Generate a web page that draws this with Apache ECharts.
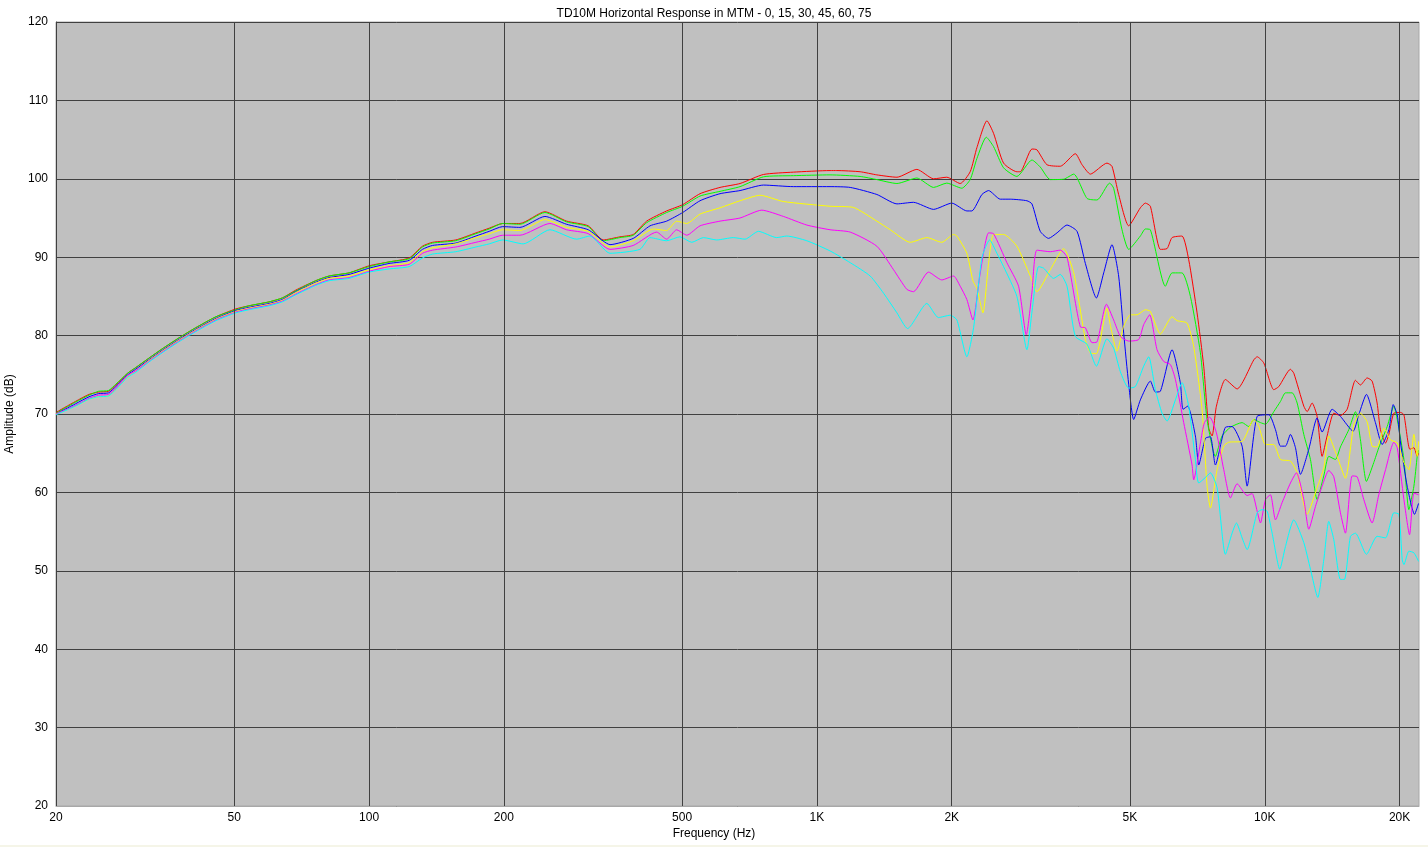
<!DOCTYPE html>
<html>
<head>
<meta charset="utf-8">
<script src="https://cdn.jsdelivr.net/npm/echarts@6/dist/echarts.min.js"></script>
<style>
html,body{margin:0;padding:0;background:#fff;}
#chart{width:1428px;height:847px;}
#strip{position:absolute;left:0;top:845px;width:1428px;height:2px;background:#f5f5e8;}
</style>
</head>
<body>
<div id="chart"></div>
<div id="strip"></div>
<script>
const titleText = 'TD10M Horizontal Response in MTM - 0, 15, 30, 45, 60, 75';
const xAxisTitle = 'Frequency (Hz)';
const yAxisTitle = 'Amplitude (dB)';
const freqTicks = [20, 50, 100, 200, 500, 1000, 2000, 5000, 10000, 20000];
const freqTickLabels = ['20', '50', '100', '200', '500', '1K', '2K', '5K', '10K', '20K'];
const seriesNames = ['0', '15', '30', '45', '60', '75'];
const seriesColors = ['#ff0000', '#00ff00', '#0000ff', '#ffff00', '#ff00ff', '#00ffff'];

const lowFreq = [20, 22.1, 23.7, 24.9, 26.2, 27.2, 28.9, 30.1, 32.2, 34.5, 37.6, 41, 45.5, 50.4, 53.9, 59.8, 64, 68.6, 76, 81.4, 90.2, 100, 110.8, 122.9, 131.6, 138.6, 156.2, 173.2, 185.5, 198.7];

const redLow = [70.2, 71.6, 72.5, 72.8, 72.9, 73.7, 75.2, 75.9, 77.1, 78.3, 79.7, 81.0, 82.4, 83.4, 83.8, 84.3, 84.8, 85.8, 87.0, 87.6, 88.0, 88.9, 89.4, 89.9, 91.4, 91.9, 92.2, 93.1, 93.7, 94.3];
const greenLow = [70.1, 71.5, 72.4, 72.9, 73.0, 73.8, 75.2, 75.9, 77.1, 78.3, 79.7, 81.0, 82.4, 83.3, 83.8, 84.3, 84.8, 85.7, 87.0, 87.6, 88.0, 88.8, 89.4, 89.8, 91.3, 91.8, 92.1, 93.0, 93.6, 94.3];
const blueLow = [70.0, 71.3, 72.2, 72.6, 72.7, 73.5, 75.0, 75.7, 76.9, 78.1, 79.5, 80.8, 82.2, 83.2, 83.6, 84.1, 84.6, 85.6, 86.8, 87.4, 87.8, 88.6, 89.2, 89.6, 91.0, 91.5, 91.8, 92.7, 93.3, 93.9];
const yellowLow = [70.0, 71.0, 71.9, 72.2, 72.3, 73.2, 74.8, 75.5, 76.8, 78.0, 79.4, 80.7, 82.1, 83.1, 83.5, 84.0, 84.5, 85.5, 86.7, 87.3, 87.6, 88.4, 88.9, 89.3, 90.7, 91.2, 91.7, 92.5, 93.0, 93.5];
const magentaLow = [70.0, 71.1, 72.0, 72.4, 72.5, 73.3, 74.9, 75.5, 76.7, 77.9, 79.3, 80.6, 82.0, 83.0, 83.4, 83.9, 84.4, 85.3, 86.5, 87.1, 87.4, 88.2, 88.8, 89.1, 90.5, 90.9, 91.3, 91.9, 92.3, 92.8];
const cyanLow = [69.9, 71.0, 71.9, 72.2, 72.3, 73.1, 74.7, 75.3, 76.6, 77.8, 79.2, 80.5, 81.9, 82.9, 83.3, 83.8, 84.3, 85.2, 86.4, 87.0, 87.3, 88.1, 88.5, 88.8, 89.9, 90.4, 90.7, 91.3, 91.7, 92.2];

const redHigh = [[217.2,94.3],[247,95.8],[276.1,94.6],[308.6,94.0],[333.4,92.2],[363.3,92.6],[389,92.9],[416.7,94.6],[461.8,95.9],[501.6,96.7],[548.3,98.1],[607.7,98.9],[673.6,99.4],[759.5,100.55],[886.4,100.85],[1070,101.05],[1108,101.05],[1249,100.9],[1361,100.5],[1509,100.2],[1672,101.2],[1822,100.0],[1950,100.2],[2089,99.4],[2199,100.9],[2277,104.0],[2397,107.4],[2480,105.8],[2611,102.0],[2796,100.9],[2845,100.9],[3021,103.8],[3099,103.7],[3263,101.8],[3495,101.6],[3776,103.2],[3908,101.8],[4080,100.6],[4443,102.0],[4559,101.6],[4718,98.0],[4968,94.0],[5275,96.3],[5412,96.9],[5553,96.5],[5847,91.0],[6052,91.1],[6209,92.5],[6536,92.7],[6763,89.7],[7061,82.9],[7306,76.1],[7497,68.2],[7627,67.2],[7799,71.0],[8168,74.4],[8675,73.2],[9451,76.9],[9616,77.3],[9951,76.5],[10476,73.1],[10749,73.5],[11412,75.7],[11611,75.2],[12222,71.0],[12434,70.3],[12757,71.4],[13088,69.7],[13430,64.6],[13779,67.2],[14258,70.1],[14755,69.8],[15272,70.6],[15939,74.3],[16355,73.7],[16926,74.6],[17365,74.2],[17819,71.4],[18126,68.0],[18608,66.3],[18929,67.4],[19423,70.1],[20101,70.2],[20451,69.9],[21086,65.5],[21528,65.7],[21900,64.6],[22050,65.0]];
const greenHigh = [[217.2,94.2],[247,95.7],[276.1,94.5],[308.6,93.9],[333.4,92.1],[363.3,92.5],[389,92.8],[416.7,94.4],[461.8,95.7],[501.6,96.5],[548.3,97.8],[607.7,98.4],[673.6,99.0],[759.5,100.25],[886.4,100.4],[1070,100.5],[1249,100.3],[1361,99.9],[1509,99.4],[1672,100.1],[1822,98.9],[1950,99.45],[2107,98.8],[2199,99.9],[2277,102.6],[2389,105.3],[2480,104.1],[2611,101.4],[2796,100.3],[3021,102.4],[3153,101.5],[3320,99.9],[3556,99.95],[3745,100.6],[4010,97.5],[4222,97.3],[4505,99.45],[4598,98.8],[4800,93.5],[4968,91.0],[5275,92.7],[5412,93.6],[5553,93.5],[5999,86.3],[6209,88.0],[6536,88.0],[6823,85.0],[7183,77.8],[7433,69.3],[7758,64.6],[8029,67.2],[8381,68.3],[8900,68.9],[9211,68.4],[9451,69.3],[9781,68.9],[10037,68.7],[10476,70.3],[10840,71.6],[11123,72.7],[11512,72.7],[11811,71.4],[12222,67.4],[12648,64.2],[13088,59.1],[13545,62.1],[13897,64.6],[14381,64.2],[14755,65.8],[15403,68.0],[15939,70.3],[16355,66.7],[16868,61.4],[17514,63.8],[17972,65.7],[18768,68.4],[19423,71.0],[19761,69.3],[20451,64.2],[20980,57.8],[21528,60.8],[21900,64.6],[22050,65.4]];
const blueHigh = [[217.2,93.8],[247,95.2],[276.1,94.2],[308.6,93.5],[333.4,92.05],[345.1,91.6],[389,92.4],[424,94.0],[461.8,94.6],[501.6,95.7],[548.3,97.2],[607.7,98.1],[673.6,98.5],[759.5,99.2],[886.4,99.0],[1070,99.0],[1187,98.9],[1361,98.0],[1509,96.8],[1643,97.0],[1822,96.1],[2001,96.9],[2162,95.9],[2218,95.9],[2336,98.0],[2417,98.5],[2567,97.4],[2702,97.4],[2944,97.2],[3021,96.8],[3153,93.3],[3291,92.4],[3436,93.1],[3618,94.1],[3809,93.3],[3976,89.2],[4208,84.8],[4369,88.0],[4559,91.6],[4718,87.6],[4842,80.3],[4968,73.8],[5097,69.3],[5275,71.8],[5553,74.2],[5698,72.8],[5847,72.9],[6209,78.2],[6478,74.0],[6569,70.6],[6729,71.0],[7000,67.2],[7122,63.5],[7370,66.9],[7562,67.1],[7758,63.5],[8168,68.3],[8454,68.4],[8900,65.9],[9132,60.8],[9616,69.7],[10210,69.9],[10566,68.0],[10840,65.9],[11123,65.9],[11412,67.4],[11710,65.7],[12016,62.3],[12540,65.5],[13088,69.5],[13430,67.7],[14136,70.6],[14755,69.7],[15749,67.8],[16214,69.9],[16868,72.5],[17664,68.9],[18281,66.1],[18929,68.0],[19355,71.2],[19761,69.9],[20101,66.3],[20797,60.8],[21600,57.2],[22050,58.6]];
const yellowHigh = [[217.2,93.4],[247,94.8],[276.1,93.8],[308.6,93.3],[345.1,91.3],[389,92.1],[431.2,93.6],[461.8,93.4],[486.3,94.6],[512,94.3],[548.3,95.5],[607.7,96.3],[673.6,97.2],[746.6,97.9],[841.9,97.1],[1070,96.5],[1206,96.35],[1361,94.6],[1458,93.5],[1616,91.9],[1760,92.5],[1901,91.9],[2019,92.9],[2054,92.7],[2162,90.5],[2230,87.0],[2277,86.0],[2348,82.9],[2417,89.2],[2480,92.9],[2611,92.9],[2796,91.4],[2995,87.6],[3099,85.6],[3320,88.4],[3556,91.1],[3745,88.0],[3976,79.5],[4080,77.8],[4208,77.7],[4443,83.5],[4521,81.3],[4678,78.0],[4842,81.2],[5010,82.65],[5185,82.65],[5412,83.3],[5553,83.1],[5847,80.2],[6209,82.4],[6371,81.9],[6705,81.6],[6940,78.6],[7244,70.6],[7433,60.8],[7562,58.0],[7826,62.9],[8099,65.9],[8310,66.4],[8900,66.5],[9451,69.3],[9699,68.4],[10037,66.1],[10476,66.1],[10840,64.2],[11412,64.0],[11811,62.5],[12434,57.2],[13088,60.6],[13545,63.1],[13897,67.2],[14504,64.6],[15139,61.8],[15803,68.6],[16355,70.1],[16926,69.0],[17365,65.9],[17819,65.8],[18450,68.2],[19094,66.7],[19761,66.3],[20451,63.8],[20980,62.9],[21528,67.4],[21900,64.6],[22050,66.5]];
const magentaHigh = [[217.2,92.8],[253.4,94.3],[276.1,93.5],[308.6,93.0],[345.1,91.0],[389,91.5],[438.7,93.2],[461.8,92.3],[486.3,93.5],[512,92.8],[548.3,94.0],[607.7,94.6],[673.6,95.0],[753.1,96.0],[841.9,95.2],[949.4,94.1],[1070,93.5],[1187,93.2],[1361,91.4],[1483,88.4],[1588,85.9],[1643,85.6],[1775,88.1],[1901,87.1],[2019,87.6],[2089,86.3],[2162,84.6],[2230,82.0],[2316,88.0],[2417,93.1],[2480,93.0],[2656,89.3],[2820,86.3],[2934,80.1],[3021,85.5],[3099,90.9],[3320,90.7],[3495,90.9],[3618,90.0],[3875,81.1],[3976,81.0],[4115,79.1],[4222,79.2],[4430,84.0],[4598,82.0],[4759,79.9],[4968,79.3],[5230,79.5],[5366,81.4],[5534,82.65],[5747,78.2],[5948,76.7],[6156,76.3],[6317,74.4],[6592,68.9],[6881,63.5],[6940,61.6],[7183,66.3],[7332,68.9],[7536,69.6],[7799,67.6],[8099,62.9],[8381,59.3],[8675,61.1],[9132,59.6],[9371,59.85],[9616,57.6],[9781,56.1],[10037,59.1],[10297,59.7],[10566,56.5],[10933,58.7],[11412,61.2],[11770,62.5],[12222,59.1],[12540,55.3],[12976,58.2],[13430,60.8],[13897,62.8],[14258,62.0],[14755,57.4],[15139,54.8],[15669,62.1],[16076,62.0],[16637,59.1],[17365,56.1],[17972,59.7],[18608,62.9],[19423,66.4],[19761,65.7],[20451,59.1],[21052,54.6],[21528,59.9],[22050,59.7]];
const cyanHigh = [[220.9,91.7],[253.4,93.5],[290.7,92.3],[311.3,92.7],[345.1,90.5],[402.6,91.0],[424,92.5],[461.8,92.1],[494.7,92.6],[525.4,91.9],[557.9,92.5],[597.4,92.2],[650.9,92.5],[691.2,92.3],[740.2,93.3],[813.4,92.5],[856.4,92.7],[949.4,92.1],[1070,90.8],[1187,89.3],[1315,87.6],[1409,85.4],[1509,82.9],[1594,80.9],[1760,84.1],[1868,82.3],[1984,82.6],[2054,82.0],[2162,77.3],[2238,81.0],[2336,89.9],[2430,92.2],[2523,90.5],[2611,88.8],[2796,85.0],[2944,78.2],[3021,83.0],[3126,88.8],[3208,88.6],[3377,87.3],[3495,87.8],[3618,86.3],[3776,79.9],[4010,78.9],[4208,76.1],[4443,79.6],[4598,78.4],[4759,75.4],[4968,73.3],[5141,73.5],[5366,76.1],[5506,77.3],[5698,73.1],[5897,70.1],[6052,69.1],[6317,71.8],[6536,74.0],[6763,71.0],[7000,64.2],[7122,61.2],[7433,62.1],[7562,62.5],[7826,60.6],[8168,52.1],[8454,54.8],[8645,56.1],[8900,54.2],[9132,52.7],[9616,57.4],[9865,57.8],[10123,57.6],[10387,54.8],[10803,50.2],[11123,53.1],[11611,56.5],[12222,53.6],[12648,50.2],[13133,46.6],[13545,51.4],[13897,56.3],[14258,54.0],[14755,48.9],[15062,48.9],[15535,54.4],[15939,54.8],[16868,52.1],[17819,54.4],[18608,54.2],[19423,57.4],[19931,57.2],[20274,51.4],[20451,50.8],[20980,52.5],[21528,52.3],[22050,51.2]];

function join(low, high) {
  return lowFreq.map((f, i) => [f, low[i]]).concat(high);
}
const allData = [
  join(redLow, redHigh),
  join(greenLow, greenHigh),
  join(blueLow, blueHigh),
  join(yellowLow, yellowHigh),
  join(magentaLow, magentaHigh),
  join(cyanLow, cyanHigh)
];

const FONT = "'Liberation Sans', Arial, sans-serif";
const chart = echarts.init(document.getElementById('chart'), null, {renderer: 'canvas'});

const series = [{
  type: 'line',
  data: [],
  silent: true,
  markLine: {
    silent: true,
    symbol: ['none', 'none'],
    label: {show: false},
    lineStyle: {color: '#404040', width: 1, type: 'solid'},
    emphasis: {disabled: true},
    data: freqTicks.slice(1).map(f => ({xAxis: f}))
  }
}];
seriesNames.forEach((n, i) => {
  series.push({
    name: n,
    type: 'line',
    data: allData[i],
    showSymbol: false,
    smooth: 0.2,
    silent: true,
    lineStyle: {color: seriesColors[i], width: 1},
    itemStyle: {color: seriesColors[i]},
    z: 3
  });
});

chart.setOption({
  animation: false,
  backgroundColor: '#ffffff',
  textStyle: {fontFamily: FONT},
  title: [{
    text: titleText,
    left: 'center',
    top: 3,
    textStyle: {fontSize: 12, fontWeight: 'normal', color: '#000', fontFamily: FONT}
  }, {
    text: xAxisTitle,
    left: 'center',
    top: 828,
    padding: 0,
    textStyle: {fontSize: 12, fontWeight: 'normal', color: '#000', fontFamily: FONT}
  }],
  grid: {
    left: 56, top: 22, right: 9, bottom: 41,
    containLabel: false,
    outerBoundsMode: 'none',
    show: true,
    backgroundColor: '#c0c0c0',
    borderColor: '#a8a8a8',
    borderWidth: 1
  },
  xAxis: {
    type: 'log',
    logBase: 10,
    min: 20,
    max: 22100,
    axisLine: {show: true, lineStyle: {color: '#a8a8a8', width: 1}},
    axisTick: {show: false},
    splitLine: {show: false},
    minorSplitLine: {show: false},
    axisLabel: {
      customValues: freqTicks,
      formatter: v => {
        const i = freqTicks.findIndex(t => Math.abs(t - v) / t < 1e-6);
        return i >= 0 ? freqTickLabels[i] : '';
      },
      fontSize: 12,
      color: '#000',
      margin: 6,
      fontFamily: FONT,
      showMinLabel: true,
      showMaxLabel: true
    }
  },
  yAxis: {
    type: 'value',
    min: 20,
    max: 120,
    interval: 10,
    name: yAxisTitle,
    nameLocation: 'middle',
    nameGap: 40,
    nameTextStyle: {fontSize: 12, color: '#000', fontFamily: FONT},
    axisLine: {show: true, lineStyle: {color: '#404040', width: 1}},
    axisTick: {show: false},
    splitLine: {show: true, lineStyle: {color: '#404040', width: 1}},
    axisLabel: {fontSize: 12, color: '#000', margin: 8, fontFamily: FONT}
  },
  series: series
});
</script>
</body>
</html>
